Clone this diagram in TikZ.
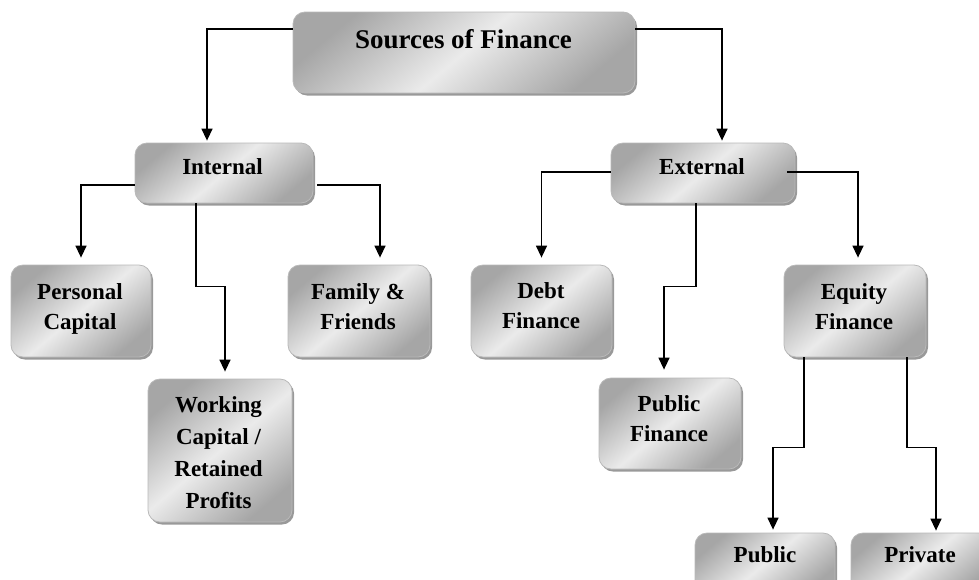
\documentclass[tikz,border=0pt]{standalone}
\usepackage{fontspec}
\setmainfont{Liberation Serif}
\usetikzlibrary{arrows.meta,shadows}
\begin{document}
\begin{tikzpicture}[x=1pt,y=-1pt,
  fbx/.style={rounded corners=12pt, draw=gray!55, line width=0.8pt,
    shading=axis, top color=gray!70, bottom color=gray!70, middle color=gray!16,
    shading angle=40,
    drop shadow={shadow xshift=2pt, shadow yshift=-2.5pt, opacity=1, fill=gray!80},
    inner sep=0pt},
  lbl/.style={font=\bfseries\fontsize{23}{30}\selectfont, align=center, inner sep=0pt},
  arr/.style={line width=1.4pt, -{Triangle[width=11pt,length=12pt]}},
]
\useasboundingbox (0,0) rectangle (979,579);
\clip (0,0) rectangle (979,579);

% boxes
\node[fbx, minimum width=342pt, minimum height=81pt] (src)  at (464,52.5) {};
\node[fbx, minimum width=178pt, minimum height=60pt] (int)  at (224,173) {};
\node[fbx, minimum width=184pt, minimum height=60pt] (ext)  at (703,173) {};
\node[fbx, minimum width=140pt, minimum height=92pt] (pc)   at (81,311) {};
\node[fbx, minimum width=142pt, minimum height=92pt] (ff)   at (359,311) {};
\node[fbx, minimum width=144pt, minimum height=143pt] (wc)  at (220,450.5) {};
\node[fbx, minimum width=141pt, minimum height=92pt] (debt) at (541.5,311) {};
\node[fbx, minimum width=142pt, minimum height=92pt] (eq)   at (855,311) {};
\node[fbx, minimum width=142pt, minimum height=91pt] (pf)   at (670,423.5) {};
\node[fbx, minimum width=140pt, minimum height=60pt] (pub)  at (765,563) {};
\node[fbx, minimum width=140pt, minimum height=60pt] (priv) at (921,563) {};

% texts
\node[lbl, font=\bfseries\fontsize{27}{32}\selectfont] (srcT) at (463.5,38.8) {Sources of Finance};
\node[lbl] (intT)  at (222.5,166.2) {Internal};
\node[lbl] (extT)  at (702,166.2) {External};
\node[lbl] (pcT)   at (80,308.7) {Personal\\Capital};
\node[lbl] (ffT)   at (358,306.5) {Family \&\\Friends};
\node[lbl, font=\bfseries\fontsize{23}{32}\selectfont] (wcT) at (218.5,453) {Working\\Capital /\\Retained\\Profits};
\node[lbl] (debtT) at (541,305.7) {Debt\\Finance};
\node[lbl] (eqT)   at (854,306.5) {Equity\\Finance};
\node[lbl] (pfT)   at (669,419) {Public\\Finance};
\node[lbl] (pubT)  at (765,554.2) {Public};
\node[lbl] (privT) at (920,554.5) {Private};

% connectors
\draw[arr, shorten >=2pt] ([yshift=23.5pt]src.west) -| ([xshift=-17pt]int.north);
\draw[arr, shorten >=2pt] ([yshift=23.5pt]src.east) -| ([xshift=19pt]ext.north);

\draw[arr, shorten >=7pt] ([yshift=-12pt]int.west) -| (pc.north);
\draw[arr, shorten >=7pt] ([xshift=4pt,yshift=-12pt]int.east) -| ([xshift=21pt]ff.north);
\draw[arr, shorten >=7pt] ([xshift=-28pt]int.south) -- ++(0,83) -| ([xshift=5pt]wc.north);

\draw[arr, shorten >=7pt] ([yshift=1pt]ext.west) -| (debt.north);
\draw[arr, shorten >=7pt] ([xshift=-8pt,yshift=1pt]ext.east) -| ([xshift=3pt]eq.north);
\draw[arr, shorten >=8pt] ([xshift=-7pt]ext.south) -- ++(0,83) -| ([xshift=-6pt]pf.north);

\draw[arr, shorten >=3pt] ([xshift=-51pt]eq.south) -- ++(0,90) -| ([xshift=8pt]pub.north);
\draw[arr, shorten >=2pt] ([xshift=52pt]eq.south) -- ++(0,90) -| ([xshift=15pt]priv.north);
\end{tikzpicture}
\end{document}
